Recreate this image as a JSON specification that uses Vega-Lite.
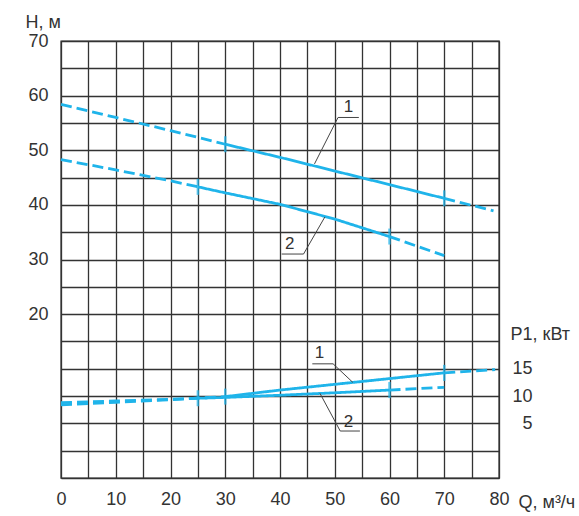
{
  "$schema": "https://vega.github.io/schema/vega-lite/v6.json",
  "width": 438,
  "height": 437,
  "autosize": {"type": "none"},
  "padding": {"left": 61, "top": 41, "right": 80, "bottom": 38},
  "background": "white",
  "config": {
    "view": {"stroke": "#333333", "strokeWidth": 1.4},
    "font": "Liberation Sans",
    "axis": {
      "labelFont": "Liberation Sans",
      "titleFont": "Liberation Sans",
      "labelFontSize": 18,
      "titleFontSize": 18,
      "titleFontWeight": "normal",
      "labelColor": "#333333",
      "titleColor": "#333333",
      "gridColor": "#333333",
      "gridOpacity": 1,
      "gridWidth": 1.3,
      "ticks": false,
      "domain": false,
      "labelFlush": false,
      "labelOverlap": false,
      "zindex": 0
    },
    "axisBottom": {
      "labelPadding": 12,
      "titleAlign": "left",
      "titleBaseline": "alphabetic",
      "titleX": 457,
      "titleY": 29
    },
    "axisLeft": {
      "labelPadding": 13,
      "titleAngle": 0,
      "titleAlign": "left",
      "titleBaseline": "alphabetic",
      "titleX": -36,
      "titleY": -14
    },
    "axisRight": {
      "labelAlign": "right",
      "labelPadding": 33,
      "titleAngle": 0,
      "titleAlign": "left",
      "titleBaseline": "alphabetic",
      "titleX": 11,
      "titleY": 298
    }
  },
  "datasets": {
    "hcurves": [
      {"curve": "1", "seg": "1a", "style": "dashed", "q": 0, "h": 58.4},
      {"curve": "1", "seg": "1a", "style": "dashed", "q": 10, "h": 56.0},
      {"curve": "1", "seg": "1a", "style": "dashed", "q": 20, "h": 53.6},
      {"curve": "1", "seg": "1a", "style": "dashed", "q": 30, "h": 51.1},
      {"curve": "1", "seg": "1b", "style": "solid", "q": 30, "h": 51.1},
      {"curve": "1", "seg": "1b", "style": "solid", "q": 40, "h": 48.7},
      {"curve": "1", "seg": "1b", "style": "solid", "q": 50, "h": 46.2},
      {"curve": "1", "seg": "1b", "style": "solid", "q": 60, "h": 43.7},
      {"curve": "1", "seg": "1b", "style": "solid", "q": 70, "h": 41.2},
      {"curve": "1", "seg": "1c", "style": "dashed", "q": 70, "h": 41.2},
      {"curve": "1", "seg": "1c", "style": "dashed", "q": 79, "h": 38.9},
      {"curve": "2", "seg": "2a", "style": "dashed", "q": 0, "h": 48.3},
      {"curve": "2", "seg": "2a", "style": "dashed", "q": 10, "h": 46.4},
      {"curve": "2", "seg": "2a", "style": "dashed", "q": 20, "h": 44.4},
      {"curve": "2", "seg": "2a", "style": "dashed", "q": 25, "h": 43.3},
      {"curve": "2", "seg": "2b", "style": "solid", "q": 25, "h": 43.3},
      {"curve": "2", "seg": "2b", "style": "solid", "q": 30, "h": 42.2},
      {"curve": "2", "seg": "2b", "style": "solid", "q": 40, "h": 40.1},
      {"curve": "2", "seg": "2b", "style": "solid", "q": 50, "h": 37.4},
      {"curve": "2", "seg": "2b", "style": "solid", "q": 60, "h": 34.2},
      {"curve": "2", "seg": "2c", "style": "dashed", "q": 60, "h": 34.2},
      {"curve": "2", "seg": "2c", "style": "dashed", "q": 70, "h": 30.7}
    ],
    "pcurves": [
      {"curve": "1", "seg": "1a", "style": "dashed", "q": 0, "p": 8.4},
      {"curve": "1", "seg": "1a", "style": "dashed", "q": 10, "p": 8.85},
      {"curve": "1", "seg": "1a", "style": "dashed", "q": 20, "p": 9.35},
      {"curve": "1", "seg": "1a", "style": "dashed", "q": 30, "p": 9.9},
      {"curve": "1", "seg": "1b", "style": "solid", "q": 30, "p": 9.9},
      {"curve": "1", "seg": "1b", "style": "solid", "q": 40, "p": 11.1},
      {"curve": "1", "seg": "1b", "style": "solid", "q": 50, "p": 12.15},
      {"curve": "1", "seg": "1b", "style": "solid", "q": 60, "p": 13.2},
      {"curve": "1", "seg": "1b", "style": "solid", "q": 70, "p": 14.25},
      {"curve": "1", "seg": "1c", "style": "dashed", "q": 70, "p": 14.25},
      {"curve": "1", "seg": "1c", "style": "dashed", "q": 79.3, "p": 14.85},
      {"curve": "2", "seg": "2a", "style": "dashed", "q": 0, "p": 8.8},
      {"curve": "2", "seg": "2a", "style": "dashed", "q": 10, "p": 9.1},
      {"curve": "2", "seg": "2a", "style": "dashed", "q": 20, "p": 9.4},
      {"curve": "2", "seg": "2a", "style": "dashed", "q": 25, "p": 9.6},
      {"curve": "2", "seg": "2b", "style": "solid", "q": 25, "p": 9.6},
      {"curve": "2", "seg": "2b", "style": "solid", "q": 30, "p": 9.75},
      {"curve": "2", "seg": "2b", "style": "solid", "q": 40, "p": 10.15},
      {"curve": "2", "seg": "2b", "style": "solid", "q": 50, "p": 10.6},
      {"curve": "2", "seg": "2b", "style": "solid", "q": 60, "p": 11.1},
      {"curve": "2", "seg": "2c", "style": "dashed", "q": 60, "p": 11.1},
      {"curve": "2", "seg": "2c", "style": "dashed", "q": 70, "p": 11.6}
    ],
    "hticks": [
      {"q": 30, "h": 51.1},
      {"q": 70, "h": 41.2},
      {"q": 25, "h": 43.3},
      {"q": 60, "h": 34.2}
    ],
    "pticks": [
      {"q": 30, "p": 9.9},
      {"q": 70, "p": 14.25},
      {"q": 25, "p": 9.6},
      {"q": 60, "p": 11.1}
    ],
    "hleaders": [
      {"q": 46.3, "h": 47.5, "q2": 50.6, "h2": 56.0},
      {"q": 50.6, "h": 56.0, "q2": 54.4, "h2": 56.0},
      {"q": 48.2, "h": 37.8, "q2": 44.3, "h2": 31.0},
      {"q": 40.3, "h": 31.0, "q2": 44.3, "h2": 31.0}
    ],
    "pleaders": [
      {"q": 45.9, "p": 15.9, "q2": 49.7, "p2": 15.9},
      {"q": 49.7, "p": 15.9, "q2": 53.3, "p2": 12.5},
      {"q": 47.3, "p": 10.5, "q2": 51.0, "p2": 3.6},
      {"q": 51.0, "p": 3.6, "q2": 54.6, "p2": 3.6}
    ],
    "hlabels": [
      {"q": 52.5, "h": 57.9, "label": "1"},
      {"q": 41.8, "h": 32.9, "label": "2"}
    ],
    "plabels": [
      {"q": 47.2, "p": 17.8, "label": "1"},
      {"q": 52.5, "p": 5.2, "label": "2"}
    ]
  },
  "layer": [
    {
      "layer": [
        {
          "data": {"name": "hcurves"},
          "mark": {"type": "line", "color": "#1fb4ea", "strokeWidth": 2.8},
          "encoding": {
            "x": {
              "field": "q", "type": "quantitative",
              "scale": {"domain": [0, 80], "nice": false, "zero": false},
              "axis": {"orient": "bottom", "grid": true, "title": "Q, м³/ч", "values": [0, 5, 10, 15, 20, 25, 30, 35, 40, 45, 50, 55, 60, 65, 70, 75, 80], "labelExpr": "datum.value % 10 == 0 ? datum.label : ''"}
            },
            "y": {
              "field": "h", "type": "quantitative",
              "scale": {"domain": [-10, 70], "nice": false, "zero": false},
              "axis": {"orient": "left", "grid": true, "title": "H, м", "values": [-10, -5, 0, 5, 10, 15, 20, 25, 30, 35, 40, 45, 50, 55, 60, 65, 70], "labelExpr": "datum.value >= 20 && datum.value % 10 == 0 ? datum.label : ''"}
            },
            "detail": {"field": "seg"},
            "strokeDash": {
              "field": "style", "type": "nominal",
              "scale": {"domain": ["solid", "dashed"], "range": [[1, 0], [11, 5]]},
              "legend": null
            }
          }
        },
        {
          "data": {"name": "hticks"},
          "mark": {"type": "tick", "orient": "vertical", "color": "#1fb4ea", "thickness": 2.5, "size": 16},
          "encoding": {
            "x": {"field": "q", "type": "quantitative",
              "axis": {"orient": "bottom", "grid": true, "title": "Q, м³/ч", "values": [0, 5, 10, 15, 20, 25, 30, 35, 40, 45, 50, 55, 60, 65, 70, 75, 80], "labelExpr": "datum.value % 10 == 0 ? datum.label : ''"}},
            "y": {"field": "h", "type": "quantitative",
              "axis": {"orient": "left", "grid": true, "title": "H, м", "values": [-10, -5, 0, 5, 10, 15, 20, 25, 30, 35, 40, 45, 50, 55, 60, 65, 70], "labelExpr": "datum.value >= 20 && datum.value % 10 == 0 ? datum.label : ''"}}
          }
        },
        {
          "data": {"name": "hleaders"},
          "mark": {"type": "rule", "color": "#444444", "strokeWidth": 1},
          "encoding": {
            "x": {"field": "q", "type": "quantitative",
              "axis": {"orient": "bottom", "grid": true, "title": "Q, м³/ч", "values": [0, 5, 10, 15, 20, 25, 30, 35, 40, 45, 50, 55, 60, 65, 70, 75, 80], "labelExpr": "datum.value % 10 == 0 ? datum.label : ''"}},
            "x2": {"field": "q2"},
            "y": {"field": "h", "type": "quantitative",
              "axis": {"orient": "left", "grid": true, "title": "H, м", "values": [-10, -5, 0, 5, 10, 15, 20, 25, 30, 35, 40, 45, 50, 55, 60, 65, 70], "labelExpr": "datum.value >= 20 && datum.value % 10 == 0 ? datum.label : ''"}},
            "y2": {"field": "h2"}
          }
        },
        {
          "data": {"name": "hlabels"},
          "mark": {"type": "text", "font": "Liberation Sans", "fontSize": 17, "color": "#333333", "align": "center", "baseline": "middle"},
          "encoding": {
            "x": {"field": "q", "type": "quantitative",
              "axis": {"orient": "bottom", "grid": true, "title": "Q, м³/ч", "values": [0, 5, 10, 15, 20, 25, 30, 35, 40, 45, 50, 55, 60, 65, 70, 75, 80], "labelExpr": "datum.value % 10 == 0 ? datum.label : ''"}},
            "y": {"field": "h", "type": "quantitative",
              "axis": {"orient": "left", "grid": true, "title": "H, м", "values": [-10, -5, 0, 5, 10, 15, 20, 25, 30, 35, 40, 45, 50, 55, 60, 65, 70], "labelExpr": "datum.value >= 20 && datum.value % 10 == 0 ? datum.label : ''"}},
            "text": {"field": "label"}
          }
        }
      ]
    },
    {
      "layer": [
        {
          "data": {"name": "pcurves"},
          "mark": {"type": "line", "color": "#1fb4ea", "strokeWidth": 2.8},
          "encoding": {
            "x": {"field": "q", "type": "quantitative",
              "axis": {"orient": "bottom", "grid": true, "title": "Q, м³/ч", "values": [0, 5, 10, 15, 20, 25, 30, 35, 40, 45, 50, 55, 60, 65, 70, 75, 80], "labelExpr": "datum.value % 10 == 0 ? datum.label : ''"}},
            "y": {
              "field": "p", "type": "quantitative",
              "scale": {"domain": [-5, 75], "nice": false, "zero": false},
              "axis": {"orient": "right", "grid": false, "title": "P1, кВт", "values": [5, 10, 15]}
            },
            "detail": {"field": "seg"},
            "strokeDash": {
              "field": "style", "type": "nominal",
              "scale": {"domain": ["solid", "dashed"], "range": [[1, 0], [11, 5]]},
              "legend": null
            }
          }
        },
        {
          "data": {"name": "pticks"},
          "mark": {"type": "tick", "orient": "vertical", "color": "#1fb4ea", "thickness": 2.5, "size": 16},
          "encoding": {
            "x": {"field": "q", "type": "quantitative",
              "axis": {"orient": "bottom", "grid": true, "title": "Q, м³/ч", "values": [0, 5, 10, 15, 20, 25, 30, 35, 40, 45, 50, 55, 60, 65, 70, 75, 80], "labelExpr": "datum.value % 10 == 0 ? datum.label : ''"}},
            "y": {"field": "p", "type": "quantitative",
              "axis": {"orient": "right", "grid": false, "title": "P1, кВт", "values": [5, 10, 15]}}
          }
        },
        {
          "data": {"name": "pleaders"},
          "mark": {"type": "rule", "color": "#444444", "strokeWidth": 1},
          "encoding": {
            "x": {"field": "q", "type": "quantitative",
              "axis": {"orient": "bottom", "grid": true, "title": "Q, м³/ч", "values": [0, 5, 10, 15, 20, 25, 30, 35, 40, 45, 50, 55, 60, 65, 70, 75, 80], "labelExpr": "datum.value % 10 == 0 ? datum.label : ''"}},
            "x2": {"field": "q2"},
            "y": {"field": "p", "type": "quantitative",
              "axis": {"orient": "right", "grid": false, "title": "P1, кВт", "values": [5, 10, 15]}},
            "y2": {"field": "p2"}
          }
        },
        {
          "data": {"name": "plabels"},
          "mark": {"type": "text", "font": "Liberation Sans", "fontSize": 17, "color": "#333333", "align": "center", "baseline": "middle"},
          "encoding": {
            "x": {"field": "q", "type": "quantitative",
              "axis": {"orient": "bottom", "grid": true, "title": "Q, м³/ч", "values": [0, 5, 10, 15, 20, 25, 30, 35, 40, 45, 50, 55, 60, 65, 70, 75, 80], "labelExpr": "datum.value % 10 == 0 ? datum.label : ''"}},
            "y": {"field": "p", "type": "quantitative",
              "axis": {"orient": "right", "grid": false, "title": "P1, кВт", "values": [5, 10, 15]}},
            "text": {"field": "label"}
          }
        }
      ]
    }
  ],
  "resolve": {"scale": {"y": "independent"}}
}
